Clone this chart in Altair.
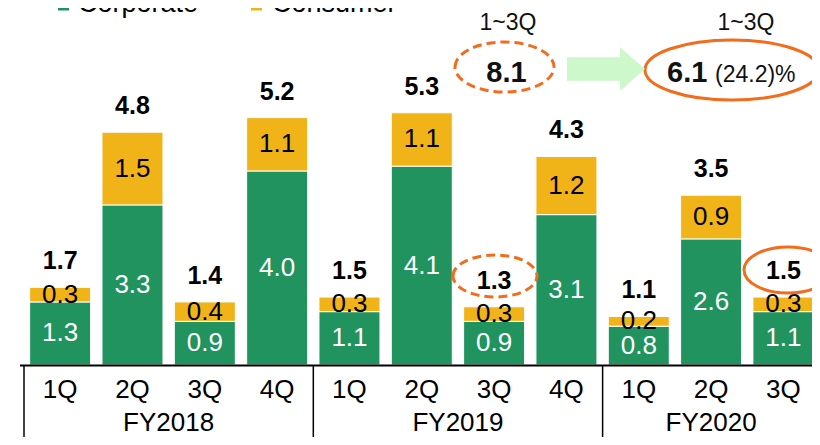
import altair as alt
import pandas as pd

# ---------------- data ----------------
quarters = ["1Q", "2Q", "3Q", "4Q", "1Q", "2Q", "3Q", "4Q", "1Q", "2Q", "3Q"]
fiscal_years = ["FY2018"] * 4 + ["FY2019"] * 4 + ["FY2020"] * 3
corporate = [1.3, 3.3, 0.9, 4.0, 1.1, 4.1, 0.9, 3.1, 0.8, 2.6, 1.1]
consumer = [0.3, 1.5, 0.4, 1.1, 0.3, 1.1, 0.3, 1.2, 0.2, 0.9, 0.3]
totals = [1.7, 4.8, 1.4, 5.2, 1.5, 5.3, 1.3, 4.3, 1.1, 3.5, 1.5]
segments = ["Corporate", "Consumer"]
seg_colors = ["#21935f", "#f0b418"]
ytd_label = "1~3Q"
ytd_values = [8.1, 6.1]
ytd_change = "(24.2)%"

FONT = "Liberation Sans"
ORANGE = "#f26c1c"

wide = pd.DataFrame({
    "idx": list(range(len(quarters))),
    "quarter": quarters,
    "fy": fiscal_years,
    "Corporate": corporate,
    "Consumer": consumer,
    "total": totals,
})
long = wide.melt(id_vars=["idx", "quarter", "fy"], value_vars=segments,
                 var_name="segment", value_name="value")
long["order"] = long["segment"].map({s: i for i, s in enumerate(segments)})

PLOT_W, PLOT_H = 793, 357
xs = alt.Scale(domain=[-0.5, -0.5 + PLOT_W / 73.25], nice=False, zero=False)
ys = alt.Scale(domain=[0, 7.36], nice=False, zero=True)
X = alt.X("idx:Q", scale=xs, axis=None)

stacked = alt.Chart(long).transform_stack(
    stack="value", groupby=["idx"], as_=["v0", "v1"],
    sort=[alt.SortField("order", order="ascending")]
).transform_calculate(mid="(datum.v0 + datum.v1) / 2")

bars = stacked.mark_bar(size=61, stroke="white", strokeWidth=1).encode(
    x=X,
    y=alt.Y("v0:Q", scale=ys, axis=None),
    y2="v1:Q",
    color=alt.Color("segment:N", scale=alt.Scale(domain=segments, range=seg_colors), legend=None),
)

seg_text = stacked.mark_text(font=FONT, fontSize=26, baseline="middle").encode(
    x=X,
    y=alt.Y("mid:Q", scale=ys, axis=None),
    text=alt.Text("value:Q", format=".1f"),
    color=alt.condition("datum.segment == 'Corporate'", alt.value("white"), alt.value("black")),
)

total_text = alt.Chart(wide).transform_calculate(
    top="datum.Corporate + datum.Consumer"
).mark_text(font=FONT, fontSize=25, fontWeight="bold", baseline="alphabetic", dy=-18, color="black").encode(
    x=X,
    y=alt.Y("top:Q", scale=ys, axis=None),
    text=alt.Text("total:Q", format=".1f"),
)

quarter_text = alt.Chart(wide).mark_text(font=FONT, fontSize=26, baseline="alphabetic", color="black").encode(
    x=X, y=alt.value(390), text="quarter:N"
)

fy_text = alt.Chart(wide).transform_aggregate(
    center="mean(idx)", groupby=["fy"]
).mark_text(font=FONT, fontSize=26, baseline="alphabetic", color="black").encode(
    x=alt.X("center:Q", scale=xs, axis=None), y=alt.value(423), text="fy:N"
)

separators = alt.Chart(wide).transform_aggregate(
    first="min(idx)", groupby=["fy"]
).transform_calculate(sep="datum.first - 0.5").mark_rule(color="black", strokeWidth=1.5).encode(
    x=alt.X("sep:Q", scale=xs, axis=None), y=alt.value(357), y2=alt.value(432)
)

one = pd.DataFrame({"a": [0]})
axis_line = alt.Chart(one).mark_rule(color="black", strokeWidth=2).encode(
    x=alt.value(1), x2=alt.value(PLOT_W + 5), y=alt.value(357.5)
)

# legend (cut at top like the reference)
legend_layers = []
legend_sq_x = [44.5, 237.5]
legend_tx_x = [59, 253]
for i, seg in enumerate(segments):
    d = pd.DataFrame({"segment": [seg]})
    legend_layers.append(alt.Chart(d).mark_square(size=121, color=seg_colors[i], opacity=1).encode(
        x=alt.value(legend_sq_x[i]), y=alt.value(-3)))
    legend_layers.append(alt.Chart(d).mark_text(font=FONT, fontSize=27, align="left", baseline="alphabetic",
                                                color="black").encode(
        x=alt.value(legend_tx_x[i]), y=alt.value(4), text="segment:N"))


def ellipse_path(r):
    k = 0.5523
    return (f"M -1 0 C -1 {-k*r:.4f} {-k:.4f} {-r:.4f} 0 {-r:.4f} "
            f"C {k:.4f} {-r:.4f} 1 {-k*r:.4f} 1 0 "
            f"C 1 {k*r:.4f} {k:.4f} {r:.4f} 0 {r:.4f} "
            f"C {-k:.4f} {r:.4f} -1 {k*r:.4f} -1 0 Z")


def ellipse(cx, cy, rx, ry, dashed):
    kw = dict(shape=ellipse_path(ry / rx), size=(2 * rx) ** 2, filled=False, stroke=ORANGE,
              strokeWidth=3, opacity=1)
    if dashed:
        kw["strokeDash"] = [9, 5]
    return alt.Chart(one).mark_point(**kw).encode(x=alt.value(cx), y=alt.value(cy))


arrow_path = "M -1 -0.3 L 0.36 -0.3 L 0.36 -0.56 L 1 0 L 0.36 0.56 L 0.36 0.3 L -1 0.3 Z"
arrow = alt.Chart(one).mark_point(shape=arrow_path, size=78 ** 2, filled=True, fill="#ccf8cc",
                                  strokeWidth=0, opacity=1).encode(x=alt.value(587), y=alt.value(61))

ann = pd.DataFrame({"lbl": [ytd_label], "v0": [ytd_values[0]], "v1": [ytd_values[1]], "chg": [ytd_change]})
ann_layers = [
    alt.Chart(ann).mark_text(font=FONT, fontSize=23, baseline="alphabetic", color="#111").encode(
        x=alt.value(489), y=alt.value(22), text="lbl:N"),
    alt.Chart(ann).mark_text(font=FONT, fontSize=23, baseline="alphabetic", color="#111").encode(
        x=alt.value(727), y=alt.value(22), text="lbl:N"),
    alt.Chart(ann).mark_text(font=FONT, fontSize=29, fontWeight="bold", baseline="alphabetic", color="#111").encode(
        x=alt.value(487.5), y=alt.value(74), text=alt.Text("v0:Q", format=".1f")),
    alt.Chart(ann).mark_text(font=FONT, fontSize=29, fontWeight="bold", align="left", baseline="alphabetic",
                             color="#111").encode(
        x=alt.value(648), y=alt.value(74), text=alt.Text("v1:Q", format=".1f")),
    alt.Chart(ann).mark_text(font=FONT, fontSize=23, align="left", baseline="alphabetic", color="#111").encode(
        x=alt.value(696), y=alt.value(74), text="chg:N"),
    ellipse(485.5, 59, 49.5, 25, True),
    ellipse(713, 62, 87, 30, False),
    ellipse(476, 268, 42, 21, True),
    ellipse(769, 262, 44, 23, False),
    arrow,
]

chart = alt.layer(
    bars, seg_text, total_text, quarter_text, fy_text, separators, axis_line,
    *legend_layers, *ann_layers
).properties(
    width=PLOT_W, height=PLOT_H,
    autosize=alt.AutoSizeParams(type="none"),
    padding={"left": 11, "top": 0, "right": 0, "bottom": 72},
).configure_view(strokeWidth=0)

chart.save("out.html", embed_options={"renderer": "svg", "actions": False})
